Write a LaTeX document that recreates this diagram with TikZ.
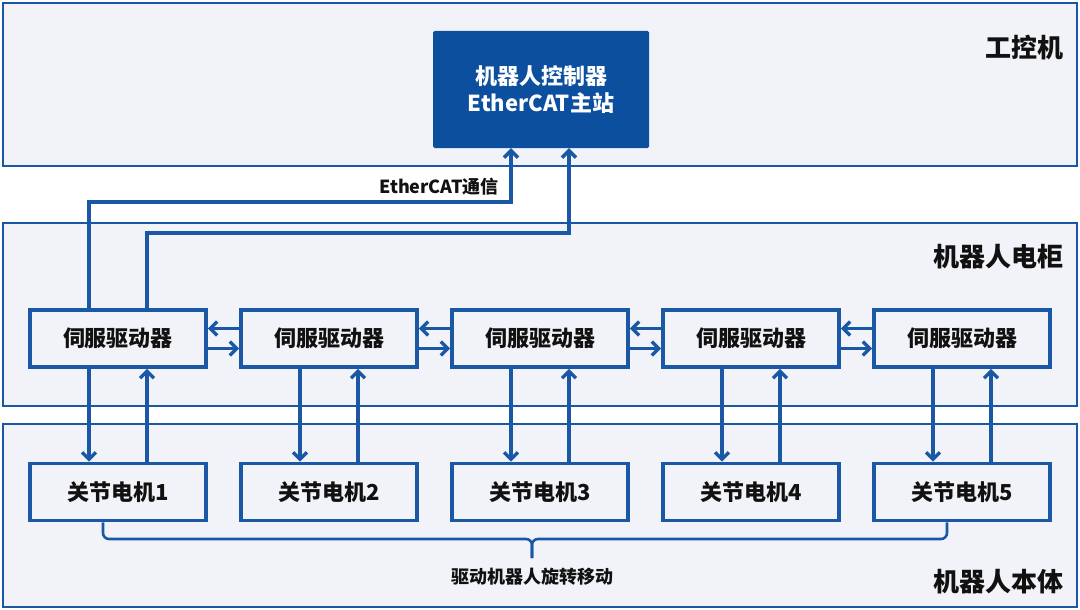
\documentclass[tikz,border=0pt]{standalone}
\usepackage{fontspec}
\setmainfont{Noto Sans CJK SC}
\usetikzlibrary{arrows.meta,calc}
\definecolor{lineblue}{HTML}{1A58A6}
\definecolor{ctrlblue}{HTML}{0B4F9E}
\definecolor{panel}{HTML}{F2F3F8}
\definecolor{ink}{HTML}{111111}
\tikzset{
  panelbox/.style={draw=lineblue, line width=2.6pt, fill=panel},
  unitbox/.style={draw=lineblue, line width=3.6pt, fill=panel, inner sep=0pt,
    minimum height=57pt, minimum width=176pt, text=ink,
    font=\fontsize{22}{26}\selectfont\bfseries},
  ctrlbox/.style={fill=ctrlblue, rounded corners=1.5pt, inner sep=0pt,
    minimum width=216pt, minimum height=117pt, text=white, align=center,
    font=\fontsize{22}{27}\selectfont\bfseries},
  seclabel/.style={anchor=east, text=ink, inner sep=0pt,
    font=\fontsize{26}{30}\selectfont\bfseries},
  smalllabel/.style={text=ink, inner sep=0pt,
    font=\fontsize{18}{22}\selectfont\bfseries},
  conn/.style={draw=lineblue, line width=3.4pt,
    -{Straight Barb[length=7pt,width=14pt,line width=3.4pt]}},
  brace/.style={draw=lineblue, line width=2.6pt, rounded corners=6pt}
}
\begin{document}
\begin{tikzpicture}[x=1pt,y=-1pt]
\useasboundingbox (0,0) rectangle (1080,610);
\fill[white] (0,0) rectangle (1080,610);
% panels
\draw[panelbox] (3,3) rectangle (1077,166);
\draw[panelbox] (3,223) rectangle (1077,406);
\draw[panelbox] (3,424) rectangle (1077,607);
\node[seclabel] (lab1) at (1064,48) {工控机};
\node[seclabel] (lab2) at (1064,257) {机器人电柜};
\node[seclabel] (lab3) at (1064,582) {机器人本体};
% controller
\node[ctrlbox] (ctrl) at (541,89.5) {机器人控制器\\EtherCAT主站};
% servo drives and motors
\foreach \i in {1,...,5}{
  \pgfmathsetmacro{\cx}{118+211*(\i-1)}
  \node[unitbox] (s\i) at (\cx,338.5) {伺服驱动器};
  \node[unitbox] (m\i) at (\cx,492) {关节电机\i};
}
% EtherCAT links
\draw[conn] ([xshift=-29pt]s1.north) -- ([xshift=-29pt]s1.north |- 0,202) -| ([xshift=-30pt]ctrl.south);
\draw[conn] ([xshift=29pt]s1.north) -- ([xshift=29pt]s1.north |- 0,233) -| ([xshift=28pt]ctrl.south);
\node[smalllabel, anchor=east] (ecat) at (499,187) {EtherCAT通信};
% chain between drives
\foreach \a/\b in {1/2,2/3,3/4,4/5}{
  \draw[conn] ([yshift=10pt]s\b.west) -- ([yshift=10pt]s\a.east);
  \draw[conn] ([yshift=-10pt]s\a.east) -- ([yshift=-10pt]s\b.west);
}
% drive <-> motor
\foreach \i in {1,...,5}{
  \draw[conn] ([xshift=-29pt]s\i.south) -- ([xshift=-29pt]m\i.north);
  \draw[conn] ([xshift=29pt]m\i.north) -- ([xshift=29pt]s\i.south);
}
% brace
\coordinate (tip) at ([xshift=-8pt]m3.south |- 0,558);
\coordinate (mid) at ([xshift=-8pt]m3.south |- 0,539);
\draw[brace] ([xshift=-15pt]m1.south) |- (mid) -- (tip);
\draw[brace] ([xshift=-15pt]m5.south) |- (mid) -- (tip);
\node[smalllabel] (drive) at ([yshift=-19pt]tip) {驱动机器人旋转移动};
\end{tikzpicture}
\end{document}
